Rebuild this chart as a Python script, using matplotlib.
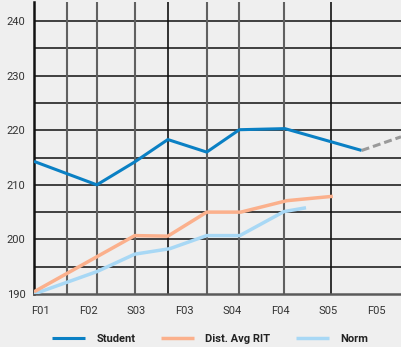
import numpy as np
import matplotlib
matplotlib.use('Agg')
import matplotlib.pyplot as plt

plt.rcParams['font.family'] = ['Roboto', 'DejaVu Sans']

# Test windows shown along the axis
terms = ['F01', 'F02', 'S03', 'F03', 'S04', 'F04', 'S05', 'F05']

# Student RIT scores (x = test date in term units from F01)
student_x = [0.0, 1.31, 2.10, 2.79, 3.60, 4.28, 5.23, 6.83]
student_y = [214.3, 210.0, 214.2, 218.3, 216.0, 220.1, 220.3, 216.3]

# Projected growth after the last test
proj_x = [6.83, 7.65]
proj_y = [216.3, 218.8]

# District average RIT
dist_x = [0.0, 2.10, 2.79, 3.60, 4.31, 5.27, 6.23]
dist_y = [190.4, 200.7, 200.6, 205.0, 205.0, 207.1, 207.9]

# National norm
norm_x = [0.0, 1.31, 2.10, 2.83, 3.60, 4.29, 5.21, 5.67]
norm_y = [190.0, 194.1, 197.3, 198.3, 200.7, 200.7, 205.1, 205.8]

# Vertical reference lines at the test dates
vlines_grey = [0.69, 1.31, 2.10, 3.60, 4.27, 5.21]
vlines_black = [2.79, 6.19]

bg = '#efefef'
fig = plt.figure(figsize=(4.01, 3.47), dpi=100, facecolor=bg)
ax = fig.add_axes([34 / 401, 1 - 294 / 347, 1 - 34 / 401, 292 / 347])
ax.set_facecolor(bg)

ax.set_xlim(0, 7.65)
ax.set_ylim(190, 243.5)

for y in np.arange(195, 245, 5):
    ax.axhline(y, color='#111111', lw=1.1, zorder=1)
for x in vlines_grey:
    ax.axvline(x, color='#606060', lw=1.5, zorder=1)
for x in vlines_black:
    ax.axvline(x, color='#111111', lw=1.2, zorder=1)

ax.plot(norm_x, norm_y, color='#a8d8f5', lw=2.5, solid_capstyle='butt', zorder=3, label='Norm')
ax.plot(dist_x, dist_y, color='#fbb08c', lw=2.5, solid_capstyle='butt', zorder=3, label='Dist. Avg RIT')
ax.plot(student_x, student_y, color='#0a80c4', lw=2.2, solid_capstyle='butt', zorder=4, label='Student')
ax.plot(proj_x, proj_y, color='#9a9a9a', lw=2.2, dashes=(2.6, 1.3), zorder=4)

for side in ['top', 'right']:
    ax.spines[side].set_visible(False)
ax.spines['left'].set_color('#111111')
ax.spines['left'].set_linewidth(1.8)
ax.spines['bottom'].set_color('#5a5a5a')
ax.spines['bottom'].set_linewidth(1.8)

ax.set_yticks(np.arange(190, 250, 10))
ax.set_xticks(np.arange(len(terms)) + 0.13)
ax.set_xticklabels(terms)
ax.tick_params(axis='both', length=0, labelsize=8, labelcolor='#333333')
ax.tick_params(axis='y', pad=6)
ax.tick_params(axis='x', pad=9)

handles, labels = ax.get_legend_handles_labels()
order = [2, 1, 0]
leg = fig.legend([handles[i] for i in order], [labels[i] for i in order],
                 loc='center', bbox_to_anchor=(210 / 401, 1 - 339 / 347),
                 ncol=3, frameon=False, handlelength=3.0, handletextpad=1.0,
                 columnspacing=2.3, prop={'size': 8, 'weight': 'bold'})
for t in leg.get_texts():
    t.set_color('#222222')

fig.savefig('out.png', dpi=100, facecolor=bg)
